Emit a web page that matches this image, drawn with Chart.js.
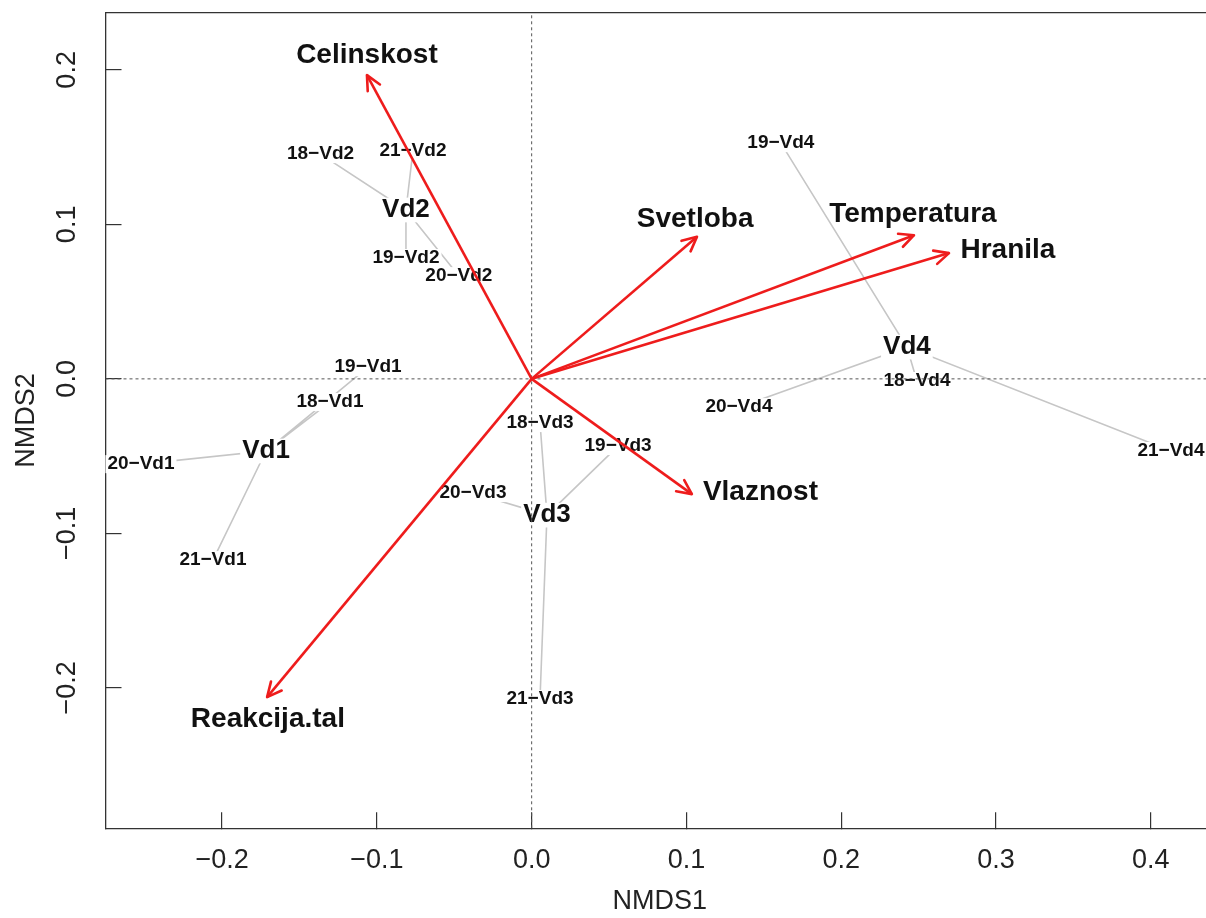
<!DOCTYPE html>
<html>
<head>
<meta charset="utf-8">
<script src="https://cdn.jsdelivr.net/npm/chart.js@4.4.1/dist/chart.umd.min.js"></script>
<style>
  html, body { margin: 0; padding: 0; background: #ffffff; overflow: hidden; }
  #wrap { width: 1214px; height: 918px; }
</style>
</head>
<body>
<div id="wrap"><canvas id="ord" width="1214" height="918"></canvas></div>
<script>
// NMDS site scores (one label per plot and year)
const siteLabels = [
  '18−Vd1', '19−Vd1', '20−Vd1', '21−Vd1',
  '18−Vd2', '19−Vd2', '20−Vd2', '21−Vd2',
  '18−Vd3', '19−Vd3', '20−Vd3', '21−Vd3',
  '18−Vd4', '19−Vd4', '20−Vd4', '21−Vd4'
];
const siteGroup = [0, 0, 0, 0, 1, 1, 1, 1, 2, 2, 2, 2, 3, 3, 3, 3];
const siteX = [
  -0.1303, -0.1057, -0.2524, -0.2059,
  -0.1364, -0.0812, -0.0470, -0.0767,
   0.0054,  0.0558, -0.0379,  0.0054,
   0.2489,  0.1610,  0.1339,  0.4130
];
const siteY = [
  -0.0150,  0.0076, -0.0552, -0.1173,
   0.1455,  0.0782,  0.0665,  0.1475,
  -0.0286, -0.0435, -0.0739, -0.2072,
  -0.0014,  0.1526, -0.0183, -0.0467
];

// group centroids (spider centres)
const centroidLabels = ['Vd1', 'Vd2', 'Vd3', 'Vd4'];
const centroidX = [-0.1716, -0.0812, 0.0099, 0.2424];
const centroidY = [-0.0467, 0.1093, -0.0882, 0.0206];

// fitted environmental vectors
const vectorLabels = ['Celinskost', 'Svetloba', 'Temperatura', 'Hranila', 'Vlaznost', 'Reakcija.tal'];
const vectorX = [-0.1064, 0.1068, 0.2470, 0.2696, 0.1035, -0.1709];
const vectorY = [ 0.1966, 0.0920, 0.0930, 0.0814, -0.0746, -0.2060];
const vectorLabelX = [-0.1064, 0.1056, 0.2463, 0.3077, 0.1478, -0.1704];
const vectorLabelY = [ 0.2096, 0.1034, 0.1066, 0.0834, -0.0733, -0.2201];

// axes
const xMin = -0.2753, xMax = 0.4408;
const yMin = -0.2909, yMax = 0.2370;
const xTicks = [-0.2, -0.1, 0.0, 0.1, 0.2, 0.3, 0.4];
const xTickLabels = ['−0.2', '−0.1', '0.0', '0.1', '0.2', '0.3', '0.4'];
const yTicks = [-0.2, -0.1, 0.0, 0.1, 0.2];
const yTickLabels = ['−0.2', '−0.1', '0.0', '0.1', '0.2'];

const FONT = '"Liberation Sans", Arial, Helvetica, sans-serif';
const RED = '#ee1c1c';
const SPIDER = '#c6c6c6';
const INK = '#111111';

function tickText(ticks, labels, v) {
  const i = ticks.findIndex(t => Math.abs(t - v) < 1e-9);
  return i >= 0 ? labels[i] : '';
}

// spider datasets: centroid -> each site, back and forth
const spiderSets = centroidLabels.map((name, g) => {
  const pts = [];
  siteGroup.forEach((sg, i) => {
    if (sg === g) {
      pts.push({ x: centroidX[g], y: centroidY[g] });
      pts.push({ x: siteX[i], y: siteY[i] });
    }
  });
  return {
    role: 'spider', label: name, data: pts, showLine: true,
    borderColor: SPIDER, borderWidth: 1.6, pointRadius: 0, order: 3
  };
});

const zeroSets = [
  { role: 'zero', data: [{ x: xMin, y: 0 }, { x: xMax, y: 0 }] },
  { role: 'zero', data: [{ x: 0, y: yMin }, { x: 0, y: yMax }] }
].map(d => Object.assign(d, {
  showLine: true, borderColor: '#555555', borderWidth: 1, borderDash: [3, 3],
  pointRadius: 0, order: 2
}));

const vectorSets = vectorLabels.map((name, i) => ({
  role: 'vector', label: name,
  data: [{ x: 0, y: 0 }, { x: vectorX[i], y: vectorY[i] }],
  showLine: true, borderColor: RED, borderWidth: 2.6, pointRadius: 0, order: 1
}));

function boxedText(ctx, text, px, py, size, bold) {
  ctx.font = (bold ? 'bold ' : '') + size + 'px ' + FONT;
  const w = ctx.measureText(text).width;
  const h = size * 0.95;
  ctx.fillStyle = '#ffffff';
  ctx.fillRect(px - w / 2 - 2, py - h / 2, w + 4, h);
  ctx.fillStyle = INK;
  ctx.textAlign = 'center';
  ctx.textBaseline = 'middle';
  ctx.fillText(text, px, py);
}

function drawGroupLabels(chart) {
  const { ctx, scales: { x, y } } = chart;
  ctx.save();
  siteLabels.forEach((t, i) => {
    boxedText(ctx, t, x.getPixelForValue(siteX[i]), y.getPixelForValue(siteY[i]), 19, true);
  });
  centroidLabels.forEach((t, i) => {
    boxedText(ctx, t, x.getPixelForValue(centroidX[i]), y.getPixelForValue(centroidY[i]), 26, true);
  });
  ctx.restore();
}

const ordPlugin = {
  id: 'ordination',
  beforeDatasetsDraw(chart) { chart.$groupLabelsDone = false; },
  beforeDatasetDraw(chart, args) {
    const ds = chart.data.datasets[args.index];
    if (!chart.$groupLabelsDone && ds.role !== 'spider') {
      drawGroupLabels(chart);
      chart.$groupLabelsDone = true;
    }
  },
  afterDatasetsDraw(chart) {
    if (!chart.$groupLabelsDone) { drawGroupLabels(chart); chart.$groupLabelsDone = true; }
    const { ctx, scales: { x, y } } = chart;
    ctx.save();
    // arrow heads
    ctx.strokeStyle = RED;
    ctx.lineWidth = 2.6;
    ctx.lineCap = 'round';
    ctx.lineJoin = 'round';
    const x0 = x.getPixelForValue(0), y0 = y.getPixelForValue(0);
    vectorX.forEach((vx, i) => {
      const tx = x.getPixelForValue(vx), ty = y.getPixelForValue(vectorY[i]);
      const ang = Math.atan2(ty - y0, tx - x0);
      const len = 16, spread = Math.PI / 7;
      ctx.beginPath();
      ctx.moveTo(tx - len * Math.cos(ang - spread), ty - len * Math.sin(ang - spread));
      ctx.lineTo(tx, ty);
      ctx.lineTo(tx - len * Math.cos(ang + spread), ty - len * Math.sin(ang + spread));
      ctx.stroke();
    });
    // vector names
    ctx.font = 'bold 28px ' + FONT;
    ctx.fillStyle = INK;
    ctx.textAlign = 'center';
    ctx.textBaseline = 'middle';
    vectorLabels.forEach((t, i) => {
      ctx.fillText(t, x.getPixelForValue(vectorLabelX[i]), y.getPixelForValue(vectorLabelY[i]));
    });
    ctx.restore();
  }
};

const axisColor = '#333333';
const tickFont = { family: FONT, size: 27 };

new Chart(document.getElementById('ord'), {
  type: 'scatter',
  data: { datasets: [...spiderSets, ...zeroSets, ...vectorSets] },
  options: {
    responsive: false,
    animation: false,
    devicePixelRatio: 1,
    events: [],
    layout: { autoPadding: false, padding: { top: 12.7, left: 0, right: 0, bottom: 0 } },
    plugins: { legend: { display: false }, tooltip: { enabled: false } },
    scales: {
      x: {
        type: 'linear', position: 'bottom', min: xMin, max: xMax,
        afterBuildTicks: s => { s.ticks = xTicks.map(v => ({ value: v })); },
        afterFit: s => { s.height = 89.7; s.paddingLeft = 0; s.paddingRight = 0; },
        ticks: {
          callback: v => tickText(xTicks, xTickLabels, v),
          font: tickFont, color: '#222222', padding: 32,
          autoSkip: false, minRotation: 0, maxRotation: 0
        },
        grid: { drawOnChartArea: false, drawTicks: true, tickLength: -16, color: axisColor, lineWidth: 1.2 },
        border: { display: true, color: axisColor, width: 1.3 },
        title: { display: true, text: 'NMDS1', font: tickFont, color: '#222222', padding: { top: 0, bottom: 0 } }
      },
      x2: {
        type: 'linear', position: 'top', min: xMin, max: xMax,
        afterFit: s => { s.height = 0; s.paddingLeft = 0; s.paddingRight = 0; },
        ticks: { display: false },
        grid: { display: false },
        border: { display: true, color: axisColor, width: 1.3 }
      },
      y: {
        type: 'linear', position: 'left', min: yMin, max: yMax,
        afterBuildTicks: s => { s.ticks = yTicks.map(v => ({ value: v })); },
        afterFit: s => { s.width = 105.5; s.paddingTop = 0; s.paddingBottom = 0; },
        ticks: {
          callback: v => tickText(yTicks, yTickLabels, v),
          font: tickFont, color: '#222222', padding: 27,
          minRotation: 90, maxRotation: 90, crossAlign: 'center', autoSkip: false
        },
        grid: { drawOnChartArea: false, drawTicks: true, tickLength: -16, color: axisColor, lineWidth: 1.2 },
        border: { display: true, color: axisColor, width: 1.3 },
        title: { display: true, text: 'NMDS2', font: tickFont, color: '#222222', padding: { top: 10, bottom: 0 } }
      }
    }
  },
  plugins: [ordPlugin]
});
</script>
</body>
</html>
